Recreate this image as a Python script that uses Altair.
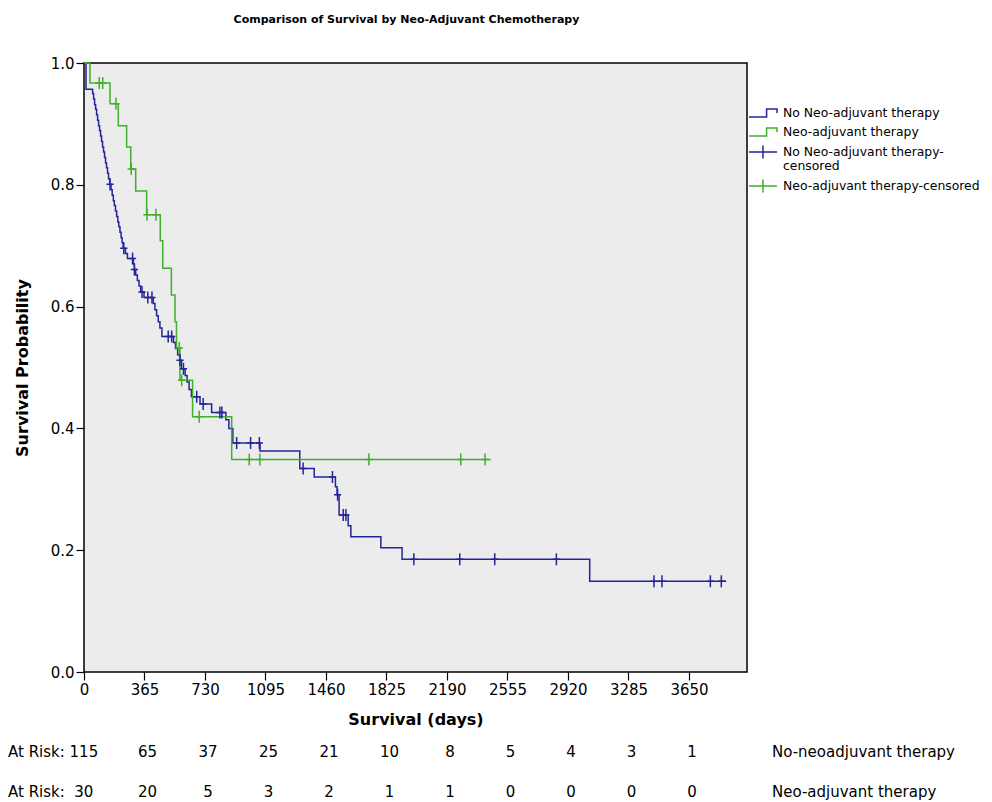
import altair as alt
import pandas as pd

FONT = "DejaVu Sans"
BLUE = "#24249A"
GREEN = "#3FAF2C"

# ---- No neo-adjuvant therapy (Kaplan-Meier steps) ----
no_neo_time = [0, 12, 52, 58, 64, 70, 76, 82, 88, 94, 100, 106, 112, 118, 124, 130, 136, 142, 148, 155,
               163, 170, 177, 183, 190, 197, 204, 210, 217, 224, 230, 236, 250, 262, 298, 304, 312, 322,
               332, 342, 362, 418, 428, 438, 448, 458, 470, 540, 552, 565, 577, 588, 610, 622, 634, 648,
               700, 770, 856, 874, 898, 1062, 1302, 1389, 1517, 1527, 1539, 1594, 1610, 1791, 1919, 3051, 3875]
no_neo_surv = [1.0, 0.957, 0.950, 0.941, 0.932, 0.924, 0.915, 0.906, 0.897, 0.889, 0.880, 0.871, 0.862,
               0.854, 0.845, 0.836, 0.828, 0.819, 0.810, 0.801, 0.792, 0.783, 0.774, 0.766, 0.757, 0.748,
               0.739, 0.731, 0.722, 0.713, 0.705, 0.696, 0.687, 0.679, 0.670, 0.661, 0.652, 0.643, 0.634,
               0.624, 0.615, 0.605, 0.595, 0.585, 0.575, 0.565, 0.551, 0.541, 0.531, 0.521, 0.512, 0.498,
               0.487, 0.476, 0.464, 0.452, 0.440, 0.426, 0.414, 0.400, 0.376, 0.363, 0.334, 0.320, 0.304,
               0.291, 0.258, 0.240, 0.222, 0.204, 0.185, 0.149, 0.149]
no_neo_cens_time = [157, 240, 293, 304, 350, 385, 410, 508, 529, 579, 600, 680, 719, 820, 832, 921, 1005,
                    1058, 1322, 1499, 1530, 1564, 1580, 1990, 2267, 2478, 2850, 3439, 3487, 3779, 3845]
no_neo_cens_surv = [0.801, 0.696, 0.679, 0.661, 0.624, 0.615, 0.615, 0.551, 0.551, 0.512, 0.498, 0.452,
                    0.440, 0.426, 0.426, 0.376, 0.376, 0.376, 0.334, 0.320, 0.291, 0.258, 0.258, 0.185,
                    0.185, 0.185, 0.185, 0.149, 0.149, 0.149, 0.149]

# ---- Neo-adjuvant therapy ----
neo_time = [0, 36, 157, 207, 257, 282, 312, 378, 460, 475, 527, 549, 558, 579, 655, 891, 2454]
neo_surv = [1.0, 0.967, 0.933, 0.897, 0.862, 0.826, 0.790, 0.751, 0.708, 0.663, 0.619, 0.575, 0.532,
            0.479, 0.419, 0.349, 0.349]
neo_cens_time = [92, 113, 193, 285, 380, 434, 575, 589, 695, 997, 1061, 1719, 2273, 2420]
neo_cens_surv = [0.967, 0.967, 0.933, 0.826, 0.751, 0.751, 0.532, 0.479, 0.419, 0.349, 0.349, 0.349,
                 0.349, 0.349]

# ---- Number at risk ----
risk_days = [0, 365, 730, 1095, 1460, 1825, 2190, 2555, 2920, 3285, 3650]
risk_no_neo = [115, 65, 37, 25, 21, 10, 8, 5, 4, 3, 1]
risk_neo = [30, 20, 5, 3, 2, 1, 1, 0, 0, 0, 0]
row_names = ["No-neoadjuvant therapy", "Neo-adjuvant therapy"]

x_ticks = risk_days
y_ticks = [0.0, 0.2, 0.4, 0.6, 0.8, 1.0]

labels = ["No Neo-adjuvant therapy", "Neo-adjuvant therapy",
          "No Neo-adjuvant therapy-censored", "Neo-adjuvant therapy-censored"]

lines_df = pd.concat([
    pd.DataFrame({"time": no_neo_time, "surv": no_neo_surv, "series": labels[0]}),
    pd.DataFrame({"time": neo_time, "surv": neo_surv, "series": labels[1]}),
])
cens_df = pd.concat([
    pd.DataFrame({"time": no_neo_cens_time, "surv": no_neo_cens_surv, "series": labels[2]}),
    pd.DataFrame({"time": neo_cens_time, "surv": neo_cens_surv, "series": labels[3]}),
])
legend_df = pd.DataFrame({"series": labels})

W, H = 663, 609

xenc = alt.X("time:Q", scale=alt.Scale(domain=[0, 4000], nice=False, zero=False),
             axis=alt.Axis(values=x_ticks, format="d", title="Survival (days)", grid=False, domain=False,
                           tickSize=8, tickColor="black", tickWidth=1.2, labelPadding=2,
                           labelFont=FONT, labelFontSize=15, labelColor="black",
                           titleFont=FONT, titleFontSize=16, titleFontWeight="bold",
                           titleColor="black", titlePadding=14, labelFlush=False))
yenc = alt.Y("surv:Q", scale=alt.Scale(domain=[0, 1], nice=False),
             axis=alt.Axis(values=y_ticks, format=".1f", title="Survival Probability", grid=False,
                           domain=False, tickSize=8, tickColor="black", tickWidth=1.2, labelPadding=2,
                           labelFont=FONT, labelFontSize=15, labelColor="black",
                           titleFont=FONT, titleFontSize=16, titleFontWeight="bold",
                           titleColor="black", titlePadding=20, labelFlush=False))

color_scale = alt.Scale(domain=labels, range=[BLUE, GREEN, BLUE, GREEN])
STEP = "M-1,0.5H1.2V-0.5H2.5V0"
CENS = "M-1,0H2.5M0.75,-0.8V0.8"
PLUS = "M0,-1V1M-0.6,0H0.6"

leg = alt.Legend(title=None, orient="none", legendX=664, legendY=41, padding=0,
                 symbolSize=256, symbolStrokeWidth=1.5, symbolOpacity=1,
                 labelFont=FONT, labelFontSize=12.4, labelColor="black", labelOffset=17,
                 labelLimit=400, rowPadding=3,
                 labelExpr="datum.label == 'No Neo-adjuvant therapy-censored' ? "
                           "['No Neo-adjuvant therapy-', 'censored'] : datum.label")

legend_layer = alt.Chart(legend_df).mark_point(filled=False, opacity=0, strokeWidth=1.5).encode(
    x=alt.value(0), y=alt.value(0),
    color=alt.Color("series:N", scale=color_scale, legend=leg),
    shape=alt.Shape("series:N", scale=alt.Scale(domain=labels, range=[STEP, STEP, CENS, CENS]),
                    legend=leg))

lines = alt.Chart(lines_df).mark_line(interpolate="step-after", strokeWidth=1.5).encode(
    x=xenc, y=yenc, color=alt.Color("series:N", scale=color_scale, legend=None),
    detail="series:N")

cens = alt.Chart(cens_df).mark_point(shape=PLUS, size=144, filled=False, strokeWidth=1.5,
                                     opacity=1).encode(
    x="time:Q", y="surv:Q", color=alt.Color("series:N", scale=color_scale, legend=None))

risk1_df = pd.DataFrame({"time": risk_days[1:], "n": [str(v) for v in risk_no_neo[1:]]})
risk2_df = pd.DataFrame({"time": risk_days[1:], "n": [str(v) for v in risk_neo[1:]]})
ROW1_Y, ROW2_Y = 689, 729

risk1 = alt.Chart(risk1_df).mark_text(font=FONT, fontSize=15, color="black", dx=3,
                                      baseline="middle").encode(
    x="time:Q", y=alt.value(ROW1_Y), text="n:N")
risk2 = alt.Chart(risk2_df).mark_text(font=FONT, fontSize=15, color="black", dx=3,
                                      baseline="middle").encode(
    x="time:Q", y=alt.value(ROW2_Y), text="n:N")

nb = "\u00a0"
left_df = pd.DataFrame({
    "label": [("At Risk: " + f"{risk_no_neo[0]:>3}").replace(" ", nb),
              ("At Risk: " + f"{risk_neo[0]:>3}").replace(" ", nb)],
    "row": ["r1", "r2"]})
left1 = alt.Chart(left_df[left_df.row == "r1"]).mark_text(
    font=FONT, fontSize=15, color="black", align="left", baseline="middle").encode(
    x=alt.value(-76), y=alt.value(ROW1_Y), text="label:N")
left2 = alt.Chart(left_df[left_df.row == "r2"]).mark_text(
    font=FONT, fontSize=15, color="black", align="left", baseline="middle").encode(
    x=alt.value(-76), y=alt.value(ROW2_Y), text="label:N")

names_df = pd.DataFrame({"name": row_names, "row": ["r1", "r2"]})
name1 = alt.Chart(names_df[names_df.row == "r1"]).mark_text(
    font=FONT, fontSize=15, color="black", align="left", baseline="middle").encode(
    x=alt.value(688), y=alt.value(ROW1_Y), text="name:N")
name2 = alt.Chart(names_df[names_df.row == "r2"]).mark_text(
    font=FONT, fontSize=15, color="black", align="left", baseline="middle").encode(
    x=alt.value(688), y=alt.value(ROW2_Y), text="name:N")

chart = alt.layer(legend_layer, lines, cens, risk1, risk2, left1, left2, name1, name2).properties(
    width=W, height=H,
    title=alt.TitleParams("Comparison of Survival by Neo-Adjuvant Chemotherapy", font=FONT,
                          fontSize=11, fontWeight="bold", color="black", offset=31, dx=-9,
                          anchor="middle"),
    padding={"left": 0, "top": 6, "right": 0, "bottom": 0},
    background="white",
).configure_view(fill="#ECECEC", stroke="black", strokeWidth=1.5)

chart.save("out.html", embed_options={"renderer": "svg", "actions": False})
